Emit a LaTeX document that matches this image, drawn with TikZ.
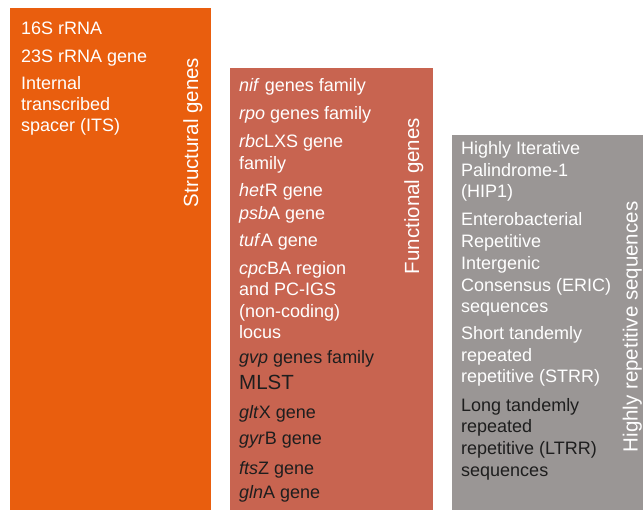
\documentclass[tikz,border=0pt]{standalone}
\usepackage{fontspec}
\setmainfont{Liberation Sans}
\definecolor{structc}{RGB}{233,94,14}
\definecolor{funcc}{RGB}{200,100,80}
\definecolor{repc}{RGB}{154,150,149}
\definecolor{darkt}{RGB}{30,30,30}
\begin{document}
\begin{tikzpicture}[x=1pt,y=-1pt,
  box/.style={inner sep=0pt, outer sep=0pt, anchor=north west},
  ln/.style={inner sep=0pt, anchor=base west, font=\fontsize{18}{21}\selectfont, text=white},
  dk/.style={text=darkt},
  big/.style={font=\fontsize{20.5}{24}\selectfont},
  side/.style={inner sep=0pt, anchor=base, rotate=90, text=white, font=\fontsize{20.5}{24}\selectfont}]
\useasboundingbox (0,0) rectangle (643,510);
% columns
\node[box, fill=structc, minimum width=201pt, minimum height=502pt] (struct) at (10,8) {};
\node[box, fill=funcc, minimum width=203pt, minimum height=442pt] (func) at (230,68) {};
\node[box, fill=repc, minimum width=191pt, minimum height=375pt] (rep) at (452,135) {};
% structural
\node[ln] (s1) at (21,35) {16S rRNA};
\node[ln] (s2) at (21,63) {23S rRNA gene};
\node[ln] (s3) at (21,90) {Internal};
\node[ln] (s4) at (21,111) {transcribed};
\node[ln] (s5) at (21,132) {spacer (ITS)};
\node[side] (slab) at (198,132.5) {Structural genes};
% functional
\node[ln] (f1) at (239,92) {\textit{nif} genes family};
\node[ln] (f2) at (239,120) {\textit{rpo} genes family};
\node[ln] (f3) at (239,148) {\textit{rbc}LXS gene};
\node[ln] (f4) at (239,170) {family};
\node[ln] (f5) at (239,197) {\textit{het}R gene};
\node[ln] (f6) at (239,220) {\textit{psb}A gene};
\node[ln] (f7) at (239,247) {\textit{tuf}A gene};
\node[ln] (f8) at (239,275) {\textit{cpc}BA region};
\node[ln] (f9) at (239,296) {and PC-IGS};
\node[ln] (f10) at (239,318) {(non-coding)};
\node[ln] (f11) at (239,339) {locus};
\node[ln,dk] (f12) at (239,364) {\textit{gvp} genes family};
\node[ln,dk,big] (f13) at (239,390) {MLST};
\node[ln,dk] (f14) at (239,419) {\textit{glt}X gene};
\node[ln,dk] (f15) at (239,445) {\textit{gyr}B gene};
\node[ln,dk] (f16) at (239,475) {\textit{fts}Z gene};
\node[ln,dk] (f17) at (239,499) {\textit{gln}A gene};
\node[side] (flab) at (419,196) {Functional genes};
% repetitive
\node[ln] (r1) at (461,155) {Highly Iterative};
\node[ln] (r2) at (461,177) {Palindrome-1};
\node[ln] (r3) at (461,198) {(HIP1)};
\node[ln] (r4) at (461,226) {Enterobacterial};
\node[ln] (r5) at (461,248) {Repetitive};
\node[ln] (r6) at (461,270) {Intergenic};
\node[ln] (r7) at (461,292) {Consensus (ERIC)};
\node[ln] (r8) at (461,313) {sequences};
\node[ln] (r9) at (461,340) {Short tandemly};
\node[ln] (r10) at (461,362) {repeated};
\node[ln] (r11) at (461,383) {repetitive (STRR)};
\node[ln,dk] (r12) at (461,412) {Long tandemly};
\node[ln,dk] (r13) at (461,433) {repeated};
\node[ln,dk] (r14) at (461,455) {repetitive (LTRR)};
\node[ln,dk] (r15) at (461,477) {sequences};
\node[side] (rlab) at (637.5,327) {Highly repetitive sequences};
\end{tikzpicture}
\end{document}
